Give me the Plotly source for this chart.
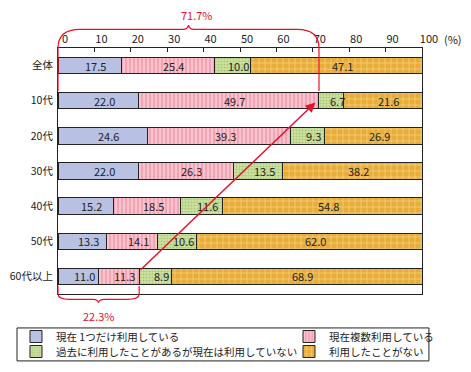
import plotly.graph_objects as go

categories = ["全体", "10代", "20代", "30代", "40代", "50代", "60代以上"]
series_names = [
    "現在 1つだけ利用している",
    "現在複数利用している",
    "過去に利用したことがあるが現在は利用していない",
    "利用したことがない",
]
only_one = [17.5, 22.0, 24.6, 22.0, 15.2, 13.3, 11.0]
multiple = [25.4, 49.7, 39.3, 26.3, 18.5, 14.1, 11.3]
past_only = [10.0, 6.7, 9.3, 13.5, 11.6, 10.6, 8.9]
never = [47.1, 21.6, 26.9, 38.2, 54.8, 62.0, 68.9]
x_tick_vals = [0, 10, 20, 30, 40, 50, 60, 70, 80, 90, 100]
x_tick_text = ["0", "10", "20", "30", "40", "50", "60", "70", "80", "90", "100"]

series_values = [only_one, multiple, past_only, never]
FONT = "Noto Sans CJK JP"
TXT = "#222222"
RED = "#E8102A"

styles = [
    dict(color="#B9C1E3"),
    dict(color="#F4A7B7", pattern=dict(shape="|", fgcolor="#FAD3DA", bgcolor="#F4A3B4",
                                        fillmode="replace", size=4, solidity=0.35)),
    dict(color="#CADF9C", pattern=dict(shape=".", fgcolor="#A9C878", bgcolor="#CFE2A4",
                                        fillmode="replace", size=3, solidity=0.4)),
    dict(color="#E9AF3C", pattern=dict(shape="+", fgcolor="#F3CD7C", bgcolor="#E8AD38",
                                        fillmode="replace", size=6, solidity=0.25)),
]
legend_ids = ["legend", "legend2", "legend3", "legend4"]

fig = go.Figure()
for name, vals, st, lg in zip(series_names, series_values, styles, legend_ids):
    marker = dict(st)
    marker["line"] = dict(color="#222222", width=1)
    fig.add_trace(go.Bar(
        x=vals, y=categories, orientation="h", name=name, marker=marker,
        legend=lg, hoverinfo="skip",
    ))

# value labels in segments
annotations = []
for vals_idx, vals in enumerate(series_values):
    for i, cat in enumerate(categories):
        start = sum(series_values[k][i] for k in range(vals_idx))
        annotations.append(dict(
            x=start + vals[i] / 2, y=cat, xref="x", yref="y", text=f"{vals[i]:.1f}",
            showarrow=False, xshift=6, font=dict(family=FONT, size=11, color=TXT),
        ))

# "(%)" after the 100 tick label
annotations.append(dict(x=100, y=1.0, xref="x", yref="paper", text="(%)", showarrow=False,
                        xanchor="left", yanchor="middle", xshift=20, yshift=9,
                        font=dict(family=FONT, size=11, color=TXT)))

top_total = only_one[1] + multiple[1]   # 71.7
bot_total = only_one[6] + multiple[6]   # 22.3

annotations.append(dict(x=top_total / 2, y=1.134, xref="x", yref="paper", text=f"{top_total:.1f}%",
                        showarrow=False, xshift=9, xanchor="center", yanchor="middle",
                        font=dict(family=FONT, size=11, color=RED)))
annotations.append(dict(x=bot_total / 2, y=-0.089, xref="x", yref="paper", text=f"{bot_total:.1f}%",
                        showarrow=False, xanchor="center", yanchor="middle",
                        font=dict(family=FONT, size=11, color=RED)))

# arrow from 60代以上 to 10代
annotations.append(dict(
    x=top_total - 1.0, y=1.05, xref="x", yref="y",
    ax=bot_total, ay=5.85, axref="x", ayref="y",
    text="", showarrow=True, arrowhead=2, arrowsize=1.3, arrowwidth=1.5,
    arrowcolor=RED, standoff=0, startstandoff=0,
))

# braces (paper coords; x axis spans 0..100)
def px(v):
    return v / 100.0

L, R = 0.0, px(top_total)
M = R / 2
yb, yv, yh, yp = 0.825, 1.0, 1.076, 1.093
cr = 0.06
upper = (f"M {L},{yb} L {L},{yv} Q {L},{yh} {L+cr},{yh} L {M-0.015},{yh} "
         f"Q {M-0.002},{yh} {M},{yp} Q {M+0.002},{yh} {M+0.015},{yh} "
         f"L {R-cr},{yh} Q {R},{yh} {R},{yv} L {R},{yb}")
L2, R2 = 0.0, px(bot_total)
M2 = R2 / 2
yb2, yv2, yh2, yp2 = 0.033, 0.0, -0.0215, -0.035
cr2 = 0.033
lower = (f"M {L2},{yb2} L {L2},{yv2} Q {L2},{yh2} {L2+cr2},{yh2} L {M2-0.015},{yh2} "
         f"Q {M2-0.002},{yh2} {M2},{yp2} Q {M2+0.002},{yh2} {M2+0.015},{yh2} "
         f"L {R2-cr2},{yh2} Q {R2},{yh2} {R2},{yv2} L {R2},{yb2}")

shapes = [
    dict(type="path", path=upper, xref="paper", yref="paper", line=dict(color=RED, width=1.2), layer="above"),
    dict(type="path", path=lower, xref="paper", yref="paper", line=dict(color=RED, width=1.2), layer="above"),
    # legend frame
    dict(type="rect", xref="paper", yref="paper", x0=-0.1126, x1=1.019, y0=-0.272, y1=-0.138,
         line=dict(color="#222222", width=1), fillcolor="rgba(0,0,0,0)"),
]

col_x = [-0.1154, 0.6346, -0.1154, 0.6346]
row_y = [-0.1138, -0.1138, -0.1748, -0.1748]
legend_layouts = {}
for lg, lx, ly in zip(legend_ids, col_x, row_y):
    legend_layouts[lg] = dict(x=lx, y=ly, xanchor="left", yanchor="top", orientation="v",
                              font=dict(family=FONT, size=10.5, color=TXT),
                              bgcolor="rgba(0,0,0,0)", borderwidth=0)

fig.update_layout(
    width=471, height=372,
    margin=dict(l=58, r=49, t=48, b=78, autoexpand=False),
    barmode="stack", bargap=0.53,
    plot_bgcolor="white", paper_bgcolor="white",
    font=dict(family=FONT, size=11, color=TXT),
    showlegend=True,
    annotations=annotations,
    shapes=shapes,
    **legend_layouts,
)
fig.update_xaxes(
    range=[0, 100], side="top", tickvals=x_tick_vals, ticktext=x_tick_text,
    ticks="inside", ticklen=4, tickcolor="#222222", ticklabelshift=7,
    showline=True, mirror=True, linecolor="#222222", linewidth=1,
    showgrid=False, zeroline=False, fixedrange=True, automargin=False,
    tickfont=dict(family=FONT, size=11, color=TXT),
)
fig.update_yaxes(
    categoryorder="array", categoryarray=categories, range=[6.5, -0.5],
    showline=True, mirror=True, linecolor="#222222", linewidth=1,
    showgrid=False, zeroline=False, ticks="", ticklabelstandoff=2, automargin=False,
    fixedrange=True, tickfont=dict(family=FONT, size=10.5, color=TXT),
)

fig.write_html("out.html", config={"displayModeBar": False, "staticPlot": True},
               post_script="document.body.style.margin='0px';")
